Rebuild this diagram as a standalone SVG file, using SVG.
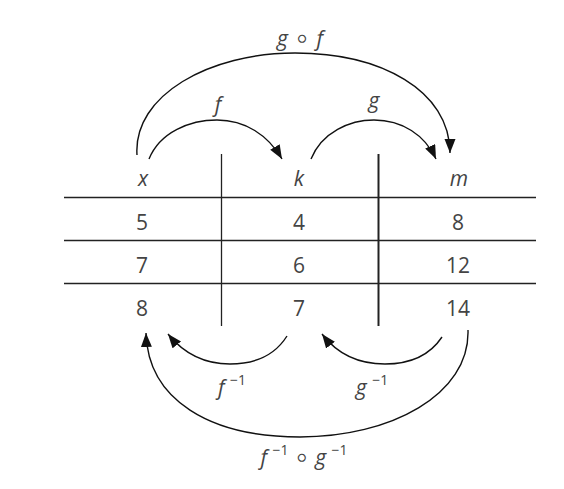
<svg xmlns="http://www.w3.org/2000/svg" width="564" height="489" viewBox="0 0 564 489">
<defs>
<marker id="ah" markerUnits="userSpaceOnUse" markerWidth="15" markerHeight="12" refX="14" refY="5.5" orient="auto">
<path d="M0,0 L14,5.5 L0,11 z" fill="#111"/>
</marker>
<style>
text{font-family:"Open Sans","Liberation Sans",sans-serif;font-weight:400;fill:#444;font-size:21px;text-anchor:middle}
.v{font-style:italic}
.sup{font-size:14px;font-style:normal}
.op{font-family:"DejaVu Sans",sans-serif;font-style:normal;font-size:30px;font-weight:300}
.grid{stroke:#222;stroke-width:1.3;fill:none}
.conn path{stroke:#111;stroke-width:1.4;fill:none;marker-end:url(#ah)}
</style>
</defs>
<rect width="564" height="489" fill="#fff"/>
<g id="table">
<line class="grid" x1="64" y1="197.5" x2="536" y2="197.5"/>
<line class="grid" x1="64" y1="240.5" x2="536" y2="240.5"/>
<line class="grid" x1="64" y1="283.5" x2="536" y2="283.5"/>
<line class="grid" x1="221.5" y1="154" x2="221.5" y2="326"/>
<line class="grid" x1="378.5" y1="154" x2="378.5" y2="326" style="stroke-width:2"/>
</g>
<g id="col-x">
<text class="v" x="143" y="186">x</text>
<text x="142" y="230">5</text>
<text x="142" y="273">7</text>
<text x="142" y="316">8</text>
</g>
<g id="col-k">
<text class="v" x="299" y="186">k</text>
<text x="299" y="230">4</text>
<text x="299" y="273">6</text>
<text x="299" y="316">7</text>
</g>
<g id="col-m">
<text class="v" x="459" y="186">m</text>
<text x="458" y="230">8</text>
<text x="458" y="273">12</text>
<text x="458" y="316">14</text>
</g>
<g class="conn" id="connectors">
<path d="M137,155 C133,95 210,53 295,53 C380,53 450,90 450,153"/>
<path d="M149,159 C160,132 190,120 217,120 C245,120 268,135 282,159"/>
<path d="M311,159 C322,132 350,120 374,120 C402,120 425,135 436,159"/>
<path d="M287,336 C275,355 255,364 230,364 C205,364 185,355 168,334"/>
<path d="M442,337 C430,355 410,364 385,364 C360,364 338,355 322,334"/>
<path d="M468,330 C470,395 390,437 300,437 C210,437 148,400 146,333"/>
</g>
<g id="labels">
<text class="v" x="300" y="46">g<tspan class="op" dx="5" dy="2">∘</tspan><tspan dx="5" dy="-2">f</tspan></text>
<text class="v" x="218" y="112">f</text>
<text class="v" x="374" y="108">g</text>
<text class="v" x="232" y="395">f <tspan class="sup" dy="-10">−1</tspan></text>
<text class="v" x="372" y="395">g <tspan class="sup" dy="-10">−1</tspan></text>
<text class="v" x="304" y="465">f <tspan class="sup" dy="-10">−1</tspan><tspan class="op" dx="4" dy="12">∘</tspan><tspan dx="4" dy="-2">g </tspan><tspan class="sup" dy="-10">−1</tspan></text>
</g>
</svg>
